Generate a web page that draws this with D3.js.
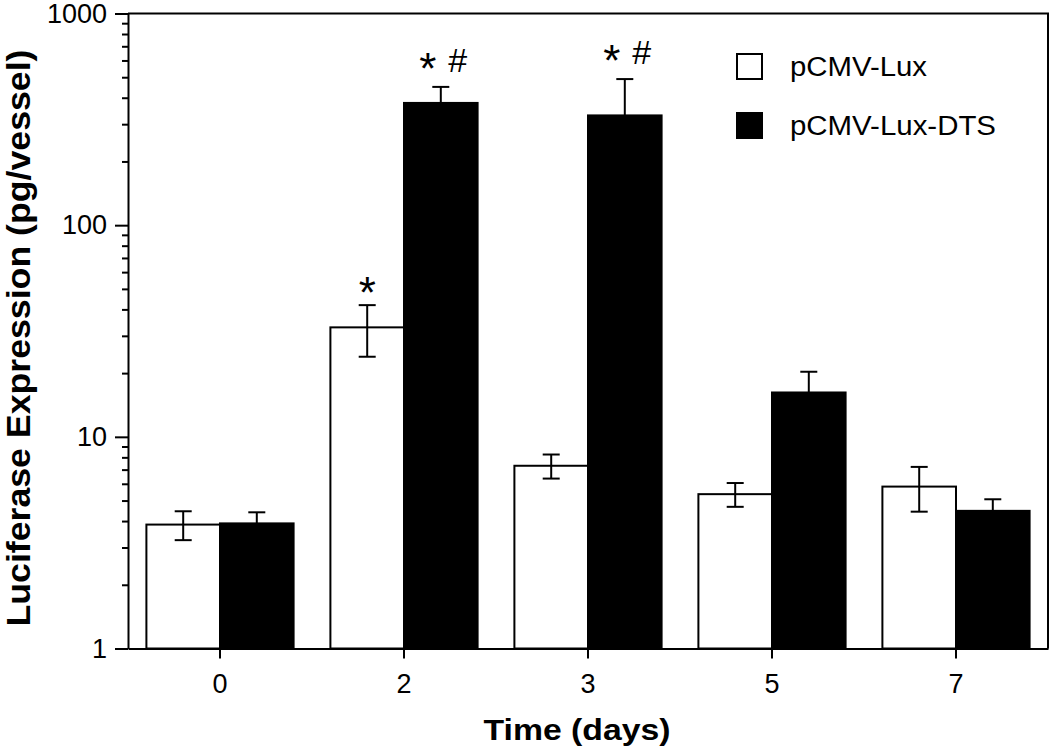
<!DOCTYPE html>
<html>
<head>
<meta charset="utf-8">
<script src="https://cdn.jsdelivr.net/npm/d3@7"></script>
<style>
  html, body { margin: 0; padding: 0; background: #fff; }
  svg { display: block; font-family: "Liberation Sans", Arial, Helvetica, sans-serif; }
</style>
</head>
<body>
<svg id="chart" width="1050" height="750"></svg>
<script>
// ---- Data ----
const categories = ["0", "2", "3", "5", "7"];
const seriesNames = ["pCMV-Lux", "pCMV-Lux-DTS"];
const luxMean = [3.85, 32.9, 7.3, 5.36, 5.82];
const luxSem  = [0.6, 9.0, 0.95, 0.69, 1.39];
const dtsMean = [3.9, 378, 330, 16.2, 4.47];
const dtsSem  = [0.5, 72, 160, 4.1, 0.6];
const yTickValues = [1, 10, 100, 1000];
const luxMarks = ["", "*", "", "", ""];
const dtsMarks = ["", "* #", "* #", "", ""];
const xTitle = "Time (days)";
const yTitle = "Luciferase Expression (pg/vessel)";

(function () {
// ---- Layout ----
const mLeft = 128, mRight = 1048, mTop = 13.5, mBottom = 648.5;
const svg = d3.select("#chart");

const x = d3.scaleBand().domain(categories).range([mLeft, mRight]).paddingInner(0.2).paddingOuter(0.1);
const xs = d3.scaleBand().domain(seriesNames).range([0, x.bandwidth()]);
const y = d3.scaleLog().domain([1, 1000]).range([mBottom, mTop]);

const series = [
  { name: seriesNames[0], mean: luxMean, sem: luxSem, marks: luxMarks, fill: "#fff" },
  { name: seriesNames[1], mean: dtsMean, sem: dtsSem, marks: dtsMarks, fill: "#000" }
];

// ---- Bars ----
series.forEach(s => {
  const g = svg.append("g");
  g.selectAll("rect").data(categories).join("rect")
    .attr("x", c => x(c) + xs(s.name))
    .attr("y", (c, i) => y(s.mean[i]))
    .attr("width", xs.bandwidth())
    .attr("height", (c, i) => mBottom - y(s.mean[i]))
    .attr("fill", s.fill)
    .attr("stroke", "#000")
    .attr("stroke-width", 2);
});

// ---- Error bars ----
const capW = 17;
series.forEach(s => {
  const g = svg.append("g").attr("stroke", "#000").attr("stroke-width", 2).attr("fill", "none");
  categories.forEach((c, i) => {
    const cx = x(c) + xs(s.name) + xs.bandwidth() / 2;
    const hi = y(s.mean[i] + s.sem[i]);
    const lo = y(s.mean[i] - s.sem[i]);
    g.append("line").attr("x1", cx).attr("x2", cx).attr("y1", hi).attr("y2", lo);
    g.append("line").attr("x1", cx - capW / 2).attr("x2", cx + capW / 2).attr("y1", hi).attr("y2", hi);
    g.append("line").attr("x1", cx - capW / 2).attr("x2", cx + capW / 2).attr("y1", lo).attr("y2", lo);
  });
});

// ---- Significance marks ----
const starFs = 44;
series.forEach((s, si) => {
  categories.forEach((c, i) => {
    const m = s.marks[i];
    if (!m) return;
    const cx = x(c) + xs(s.name) + xs.bandwidth() / 2;
    const capY = y(s.mean[i] + s.sem[i]);
    const parts = m.split(" ");
    if (parts.length === 1) {
      svg.append("text").attr("x", cx).attr("y", capY - 16 + 0.427 * starFs)
        .attr("text-anchor", "middle").style("font-size", starFs + "px").text(parts[0]);
    } else {
      svg.append("text").attr("x", cx - 13).attr("y", capY - 22 + 0.427 * starFs)
        .attr("text-anchor", "middle").style("font-size", starFs + "px").text(parts[0]);
      svg.append("text").attr("x", cx + 17).attr("y", capY - 15)
        .attr("text-anchor", "middle").style("font-size", "34px").text(parts[1]);
    }
  });
});

// ---- Axes ----
const yAxis = d3.axisLeft(y).tickValues(yTickValues).tickSize(13).tickSizeOuter(0)
  .tickPadding(8).tickFormat(d3.format("d"));
const gy = svg.append("g").attr("transform", `translate(${mLeft},0)`).call(yAxis);
gy.attr("font-size", null).attr("font-family", null);
gy.selectAll("text").style("font-size", "27px").attr("fill", "#000");
gy.selectAll("line").attr("stroke-width", 2);
gy.select(".domain").attr("stroke-width", 2);

const minorVals = y.ticks().filter(v => !yTickValues.includes(v));
const yMinor = d3.axisLeft(y).tickValues(minorVals).tickSize(6).tickSizeOuter(0).tickFormat("");
const gym = svg.append("g").attr("transform", `translate(${mLeft},0)`).call(yMinor);
gym.selectAll("line").attr("stroke-width", 2);
gym.select(".domain").remove();

const xAxis = d3.axisBottom(x).tickSize(10).tickSizeOuter(0).tickPadding(15);
const gx = svg.append("g").attr("transform", `translate(0,${mBottom})`).call(xAxis);
gx.attr("font-size", null).attr("font-family", null);
gx.selectAll("text").style("font-size", "27px").attr("fill", "#000");
gx.selectAll("line").attr("stroke-width", 2);
gx.select(".domain").attr("stroke-width", 2);

// frame (top and right)
svg.append("path")
  .attr("d", `M${mLeft},${mTop}H${mRight}V${mBottom}`)
  .attr("fill", "none").attr("stroke", "#000").attr("stroke-width", 2);

// ---- Titles ----
svg.append("text").attr("x", 577).attr("y", 740)
  .attr("text-anchor", "middle").attr("font-weight", "bold").style("font-size", "30px")
  .attr("textLength", 187).attr("lengthAdjust", "spacingAndGlyphs")
  .text(xTitle);

svg.append("text").attr("transform", "translate(30,338) rotate(-90)")
  .attr("text-anchor", "middle").attr("font-weight", "bold").style("font-size", "33px")
  .attr("textLength", 577).attr("lengthAdjust", "spacingAndGlyphs")
  .text(yTitle);

// ---- Legend ----
const legendLengths = [137, 206];
const legend = svg.append("g").attr("transform", "translate(737,54)");
series.forEach((s, i) => {
  const gl = legend.append("g").attr("transform", `translate(0,${i * 59})`);
  gl.append("rect").attr("x", 0).attr("y", 0).attr("width", 25).attr("height", 25)
    .attr("fill", s.fill).attr("stroke", "#000").attr("stroke-width", 2);
  gl.append("text").attr("x", 53).attr("y", 21.5).style("font-size", "27px")
    .attr("textLength", legendLengths[i]).attr("lengthAdjust", "spacingAndGlyphs")
    .text(s.name);
});
})();
</script>
</body>
</html>
